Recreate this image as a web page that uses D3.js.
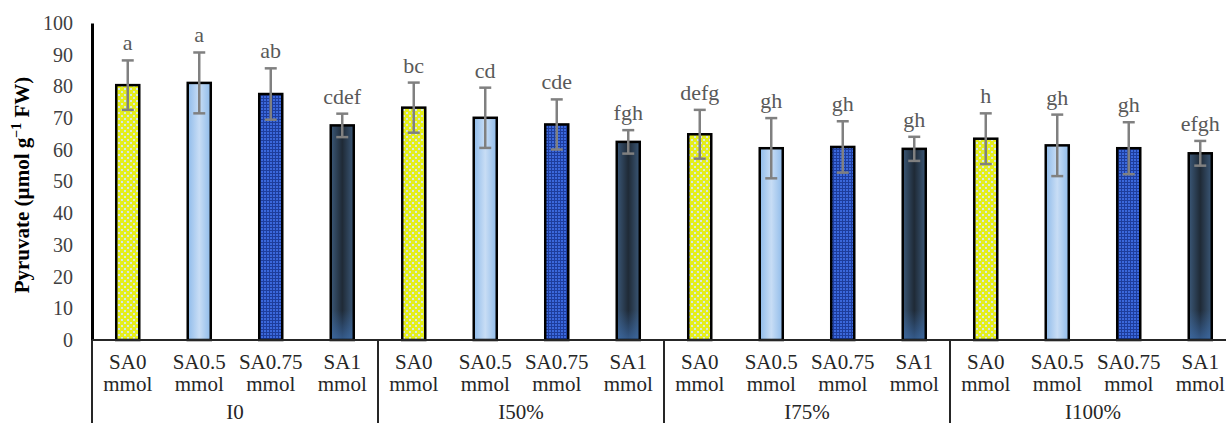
<!DOCTYPE html>
<html>
<head>
<meta charset="utf-8">
<script src="https://cdn.jsdelivr.net/npm/d3@7"></script>
<style>
  body { margin: 0; background: #fff; }
  svg { display: block; font-family: "Liberation Serif", "Times New Roman", serif; }
</style>
</head>
<body>
<svg id="chart" width="1226" height="423"></svg>
<script>
// Irrigation levels (outer groups) and SA treatments (bars inside each group)
var groups = ['I0', 'I50%', 'I75%', 'I100%'];
var treatments = ['SA0 mmol', 'SA0.5 mmol', 'SA0.75 mmol', 'SA1 mmol'];

// Pyruvate means, one array per irrigation level, in treatment order
var meansI0 = [80.4, 81.1, 77.6, 67.7];
var meansI50 = [73.3, 70.1, 68.0, 62.5];
var meansI75 = [64.9, 60.5, 60.9, 60.3];
var meansI100 = [63.5, 61.4, 60.5, 58.9];

// Error bar half-lengths
var errI0 = [7.8, 9.6, 8.1, 3.7];
var errI50 = [7.9, 9.5, 7.9, 3.7];
var errI75 = [7.7, 9.5, 8.1, 3.8];
var errI100 = [8.0, 9.7, 8.2, 3.9];

// Significance letters
var lettersI0 = ['a', 'a', 'ab', 'cdef'];
var lettersI50 = ['bc', 'cd', 'cde', 'fgh'];
var lettersI75 = ['defg', 'gh', 'gh', 'gh'];
var lettersI100 = ['h', 'gh', 'gh', 'efgh'];

var yTicks = [0, 10, 20, 30, 40, 50, 60, 70, 80, 90, 100];

var allMeans = [meansI0, meansI50, meansI75, meansI100];
var allErr = [errI0, errI50, errI75, errI100];
var allLetters = [lettersI0, lettersI50, lettersI75, lettersI100];

var rows = [];
groups.forEach(function(g, gi) {
  treatments.forEach(function(t, ti) {
    rows.push({ group: g, treat: t, ti: ti, value: allMeans[gi][ti], err: allErr[gi][ti], letter: allLetters[gi][ti] });
  });
});

var svg = d3.select('#chart');
var plotLeft = 92, groupW = 286, plotTop = 23, base = 340;

var x0 = d3.scaleBand().domain(groups).range([plotLeft, plotLeft + groupW * groups.length]).padding(0);
var x1 = d3.scaleBand().domain(treatments).range([0, x0.bandwidth()]).paddingInner(0.678).paddingOuter(0.339);
var y = d3.scaleLinear().domain([0, 100]).range([base, plotTop]);

function cx(d) { return x0(d.group) + x1(d.treat) + x1.bandwidth() / 2; }

// ---- fills ----
var defs = svg.append('defs');

var pYel = defs.append('pattern').attr('id', 'pYel').attr('patternUnits', 'userSpaceOnUse')
  .attr('width', 6).attr('height', 6);
pYel.append('rect').attr('width', 6).attr('height', 6).attr('fill', '#e4ee1c');
pYel.append('rect').attr('x', 1).attr('y', 1).attr('width', 2).attr('height', 2).attr('fill', '#d6e6e8');
pYel.append('rect').attr('x', 4).attr('y', 4).attr('width', 2).attr('height', 2).attr('fill', '#d6e6e8');

var pBlue = defs.append('pattern').attr('id', 'pBlue').attr('patternUnits', 'userSpaceOnUse')
  .attr('width', 3).attr('height', 3);
pBlue.append('rect').attr('width', 3).attr('height', 3).attr('fill', '#1e3d9c');
pBlue.append('rect').attr('x', 0).attr('y', 0).attr('width', 2).attr('height', 2).attr('fill', '#3b68dc');

var gLight = defs.append('linearGradient').attr('id', 'gLight');
gLight.append('stop').attr('offset', '0%').attr('stop-color', '#8fbbea');
gLight.append('stop').attr('offset', '50%').attr('stop-color', '#c8ddf5');
gLight.append('stop').attr('offset', '100%').attr('stop-color', '#8fbbea');

var gDark = defs.append('linearGradient').attr('id', 'gDark');
gDark.append('stop').attr('offset', '0%').attr('stop-color', '#3b5878');
gDark.append('stop').attr('offset', '50%').attr('stop-color', '#1f2a36');
gDark.append('stop').attr('offset', '100%').attr('stop-color', '#3b5878');

var gGlow = defs.append('linearGradient').attr('id', 'gGlow').attr('x1', 0).attr('x2', 0).attr('y1', 0).attr('y2', 1);
gGlow.append('stop').attr('offset', '0%').attr('stop-color', '#3d6fb0').attr('stop-opacity', 0);
gGlow.append('stop').attr('offset', '100%').attr('stop-color', '#3d6fb0').attr('stop-opacity', 0.7);

var fills = ['url(#pYel)', 'url(#gLight)', 'url(#pBlue)', 'url(#gDark)'];

// ---- y axis ----
var yAxis = svg.append('g').attr('transform', 'translate(' + plotLeft + ',0)')
  .call(d3.axisLeft(y).tickValues(yTicks).tickSize(0).tickPadding(19));
yAxis.select('.domain').attr('stroke', '#000').attr('stroke-width', 3);
yAxis.selectAll('text').attr('font-family', '"Liberation Serif", serif')
  .attr('font-size', 20).attr('fill', '#404040');

svg.append('text')
  .attr('transform', 'translate(29,185) rotate(-90)')
  .attr('text-anchor', 'middle')
  .attr('font-size', 21).attr('font-weight', 'bold').attr('fill', '#000')
  .html('Pyruvate (µmol g<tspan dy="-8" font-size="14">−1</tspan><tspan dy="8"> FW)</tspan>');

// ---- bars ----
var bars = svg.append('g');
bars.selectAll('rect.bar').data(rows).enter().append('rect')
  .attr('class', 'bar')
  .attr('x', function(d) { return x0(d.group) + x1(d.treat); })
  .attr('y', function(d) { return y(d.value); })
  .attr('width', x1.bandwidth())
  .attr('height', function(d) { return base - y(d.value); })
  .attr('fill', function(d) { return fills[d.ti]; });

bars.selectAll('rect.glow').data(rows.filter(function(d) { return d.ti === 3; })).enter().append('rect')
  .attr('class', 'glow')
  .attr('x', function(d) { return x0(d.group) + x1(d.treat); })
  .attr('y', base - 30)
  .attr('width', x1.bandwidth())
  .attr('height', 30)
  .attr('fill', 'url(#gGlow)');

bars.selectAll('rect.edge').data(rows).enter().append('rect')
  .attr('class', 'edge')
  .attr('x', function(d) { return x0(d.group) + x1(d.treat); })
  .attr('y', function(d) { return y(d.value); })
  .attr('width', x1.bandwidth())
  .attr('height', function(d) { return base - y(d.value); })
  .attr('fill', 'none').attr('stroke', '#000').attr('stroke-width', 2.5);

// ---- error bars ----
var eb = svg.append('g').attr('stroke', '#808080').attr('stroke-width', 2.5);
rows.forEach(function(d) {
  var c = cx(d);
  eb.append('line').attr('x1', c).attr('x2', c).attr('y1', y(d.value + d.err)).attr('y2', y(d.value - d.err));
  eb.append('line').attr('x1', c - 6).attr('x2', c + 6).attr('y1', y(d.value + d.err)).attr('y2', y(d.value + d.err));
  eb.append('line').attr('x1', c - 6).attr('x2', c + 6).attr('y1', y(d.value - d.err)).attr('y2', y(d.value - d.err));
});

svg.append('g').selectAll('text').data(rows).enter().append('text')
  .attr('x', cx)
  .attr('y', function(d) { return y(d.value + d.err) - 10; })
  .attr('text-anchor', 'middle').attr('font-size', 22).attr('fill', '#595959')
  .text(function(d) { return d.letter; });

// ---- x axis with two-level labels ----
svg.append('line').attr('x1', plotLeft).attr('x2', 1226).attr('y1', base).attr('y2', base)
  .attr('stroke', '#262626').attr('stroke-width', 2);

var sep = groups.map(function(g) { return x0(g); }).concat([x0.range()[1]]);
svg.append('g').selectAll('line').data(sep).enter().append('line')
  .attr('x1', function(d) { return d; }).attr('x2', function(d) { return d; })
  .attr('y1', base).attr('y2', 423)
  .attr('stroke', '#262626').attr('stroke-width', 2);

var catLab = svg.append('g').selectAll('text').data(rows).enter().append('text')
  .attr('x', cx)
  .attr('text-anchor', 'middle').attr('font-size', 21).attr('fill', '#262626');
catLab.append('tspan').attr('y', 369).text(function(d) { return d.treat.split(' ')[0]; });
catLab.append('tspan').attr('x', cx).attr('y', 391).text(function(d) { return d.treat.split(' ')[1]; });

svg.append('g').selectAll('text').data(groups).enter().append('text')
  .attr('x', function(d) { return x0(d) + x0.bandwidth() / 2; })
  .attr('y', 419).attr('text-anchor', 'middle').attr('font-size', 21).attr('fill', '#262626')
  .text(function(d) { return d; });
</script>
</body>
</html>
